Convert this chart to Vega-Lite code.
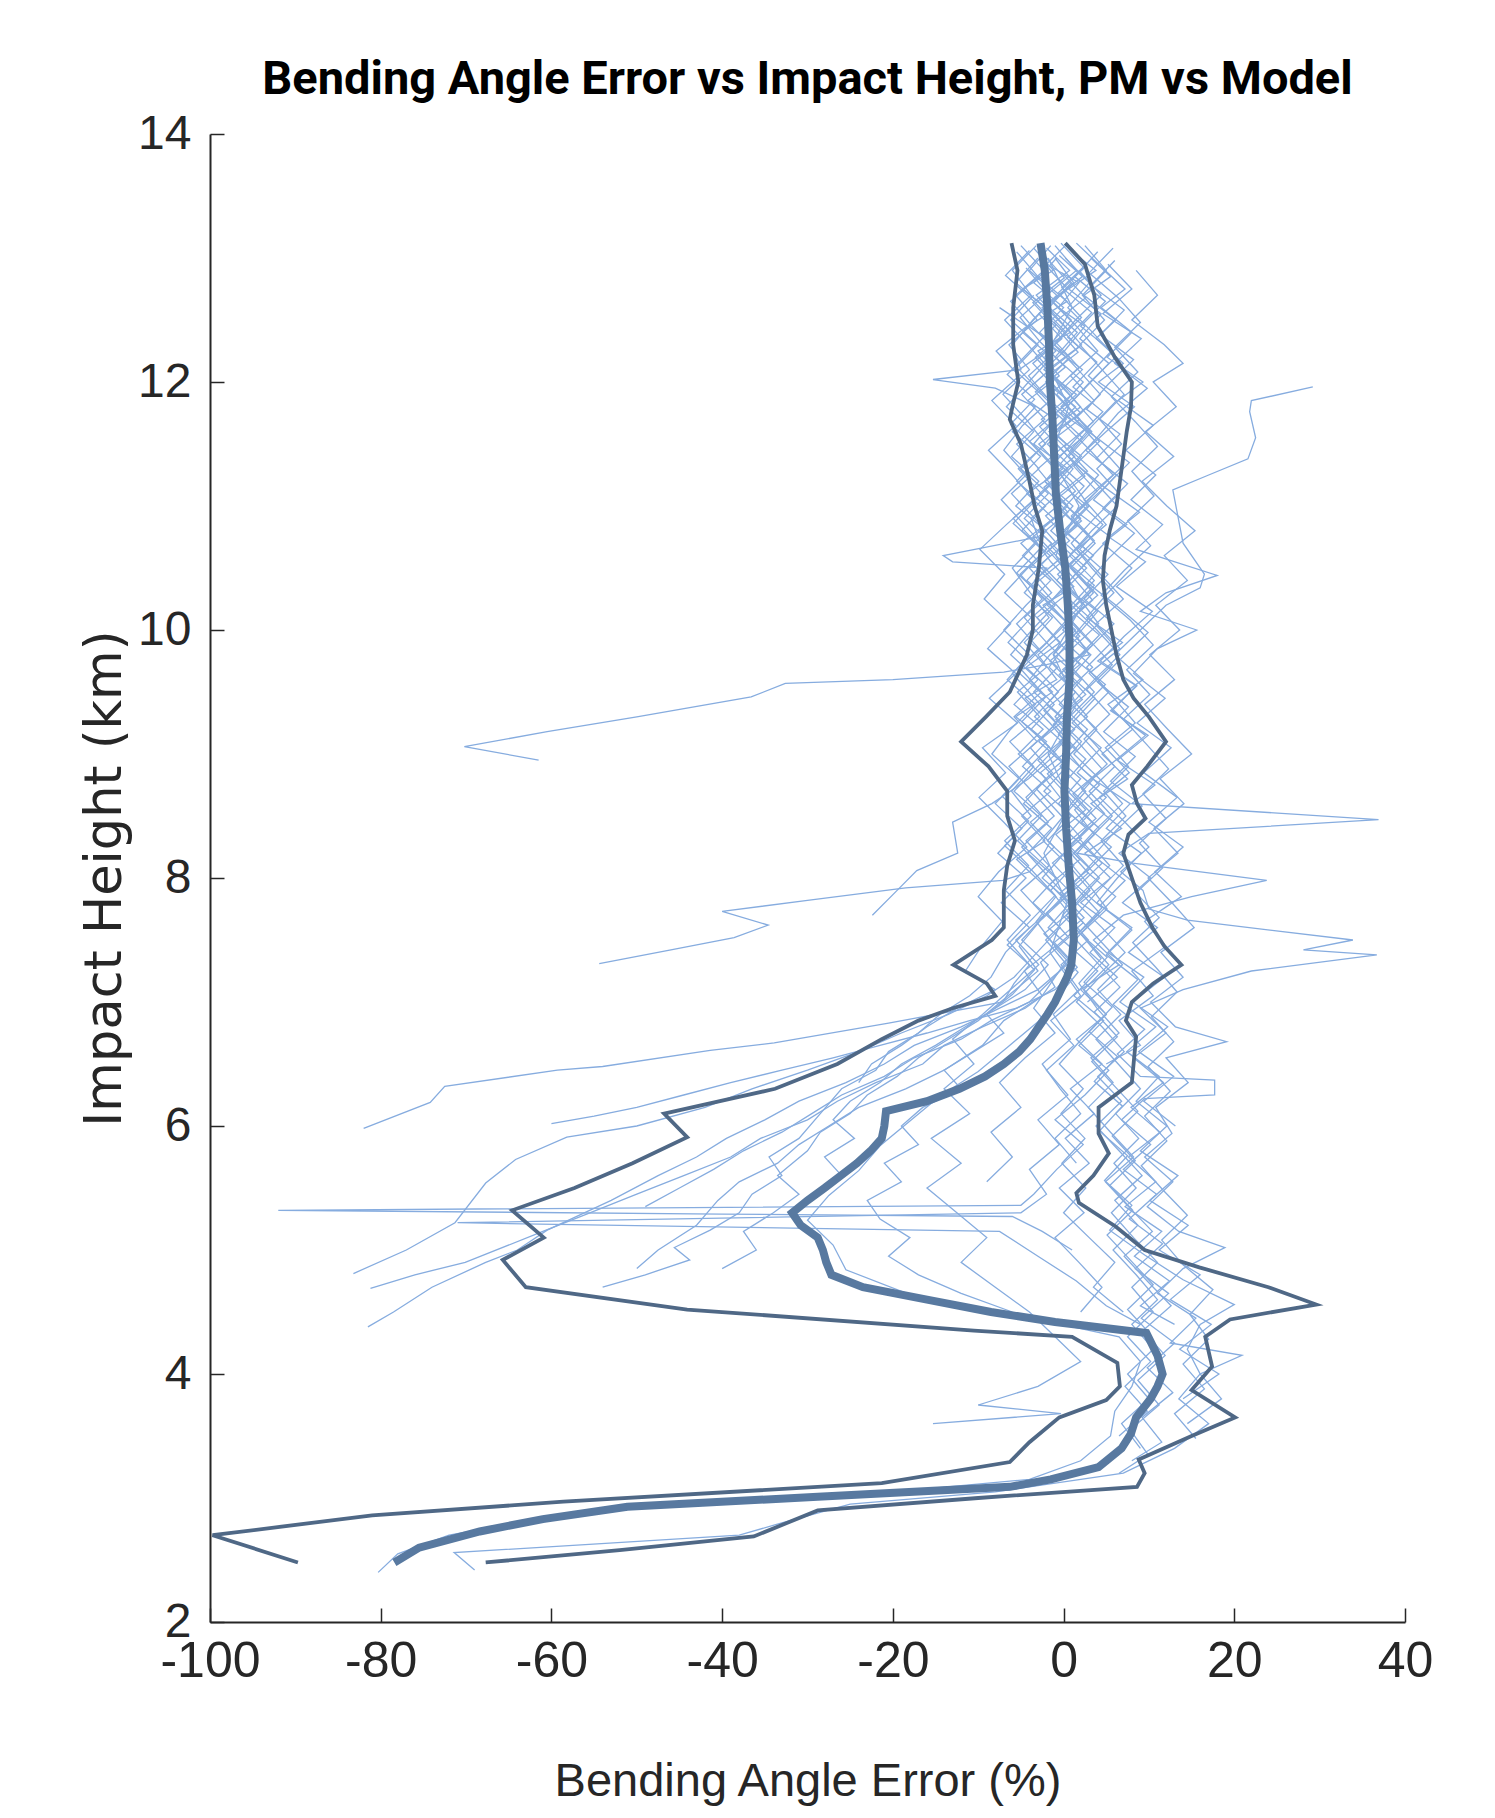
{
"$schema": "https://vega.github.io/schema/vega-lite/v6.json",
"width": 1195, "height": 1488,
"autosize": {"type": "none"},
"padding": {"left": 210, "top": 134, "right": 90, "bottom": 196},
"background": "white",
"config": {"view": {"stroke": null}},
"title": {"text": "Bending Angle Error vs Impact Height, PM vs Model", "font": "Roboto", "fontSize": 47, "fontWeight": "bold", "color": "black", "anchor": "middle", "frame": "group", "baseline": "alphabetic", "offset": -31},
"datasets": {
"light": [
{"s":"a","h":13.08,"e":-3.5},{"s":"a","h":12.9,"e":-1.2},{"s":"a","h":12.75,"e":-4.8},{"s":"a","h":12.6,"e":-2.1},{"s":"a","h":12.4,"e":0.8},{"s":"a","h":12.25,"e":-3.0},{"s":"a","h":12.05,"e":-0.5},{"s":"a","h":11.85,"e":-4.2},{"s":"a","h":11.7,"e":-1.0},{"s":"a","h":11.5,"e":-3.5},{"s":"a","h":11.3,"e":0.5},{"s":"a","h":11.1,"e":-2.8},{"s":"a","h":10.95,"e":-0.2},{"s":"a","h":10.75,"e":-3.6},{"s":"a","h":10.55,"e":-1.5},{"s":"a","h":10.35,"e":1.2},{"s":"a","h":10.2,"e":-2.4},{"s":"a","h":10.0,"e":0.3},{"s":"a","h":9.8,"e":-3.0},{"s":"a","h":9.6,"e":-0.8},{"s":"a","h":9.45,"e":-4.5},{"s":"a","h":9.25,"e":-1.6},{"s":"a","h":9.05,"e":0.9},{"s":"a","h":8.85,"e":-2.7},{"s":"a","h":8.65,"e":-0.4},{"s":"a","h":8.45,"e":-3.9},{"s":"a","h":8.25,"e":-1.1},{"s":"a","h":8.05,"e":-4.0},{"s":"a","h":7.85,"e":-0.9},{"s":"a","h":7.65,"e":-3.2},{"s":"a","h":7.45,"e":-1.0},{"s":"a","h":7.25,"e":-4.6},{"s":"a","h":7.05,"e":-2.5},{"s":"a","h":6.85,"e":-7.0},{"s":"a","h":6.65,"e":-9.5},{"s":"a","h":6.45,"e":-14.0},{"s":"a","h":6.3,"e":-18.5},{"s":"a","h":6.15,"e":-24.0},{"s":"a","h":6.0,"e":-27.5},{"s":"a","h":5.85,"e":-31.0},{"s":"a","h":5.7,"e":-33.5},{"s":"a","h":5.55,"e":-38.0},{"s":"a","h":5.4,"e":-40.5},{"s":"a","h":5.2,"e":-43.0},{"s":"a","h":5.0,"e":-47.5},{"s":"a","h":4.85,"e":-50.0},
{"s":"b","h":13.12,"e":0.5},{"s":"b","h":12.95,"e":-2.0},{"s":"b","h":12.8,"e":1.8},{"s":"b","h":12.6,"e":-0.6},{"s":"b","h":12.45,"e":2.5},{"s":"b","h":12.25,"e":0.1},{"s":"b","h":12.1,"e":-2.3},{"s":"b","h":11.9,"e":1.5},{"s":"b","h":11.75,"e":-0.9},{"s":"b","h":11.55,"e":2.2},{"s":"b","h":11.35,"e":-1.4},{"s":"b","h":11.2,"e":0.9},{"s":"b","h":11.0,"e":3.0},{"s":"b","h":10.8,"e":0.2},{"s":"b","h":10.65,"e":2.6},{"s":"b","h":10.45,"e":-0.7},{"s":"b","h":10.25,"e":1.9},{"s":"b","h":10.05,"e":4.1},{"s":"b","h":9.85,"e":1.0},{"s":"b","h":9.7,"e":3.4},{"s":"b","h":9.5,"e":0.3},{"s":"b","h":9.3,"e":2.8},{"s":"b","h":9.1,"e":-0.5},{"s":"b","h":8.9,"e":1.9},{"s":"b","h":8.75,"e":4.2},{"s":"b","h":8.55,"e":1.3},{"s":"b","h":8.35,"e":3.6},{"s":"b","h":8.15,"e":0.4},{"s":"b","h":7.95,"e":2.9},{"s":"b","h":7.75,"e":5.1},{"s":"b","h":7.55,"e":2.0},{"s":"b","h":7.35,"e":4.4},{"s":"b","h":7.15,"e":1.8},{"s":"b","h":6.95,"e":3.9},{"s":"b","h":6.75,"e":6.5},{"s":"b","h":6.55,"e":3.2},{"s":"b","h":6.35,"e":5.8},{"s":"b","h":6.15,"e":2.9},{"s":"b","h":5.95,"e":5.5},{"s":"b","h":5.75,"e":8.2},{"s":"b","h":5.55,"e":4.9},{"s":"b","h":5.35,"e":7.6},{"s":"b","h":5.15,"e":10.4},{"s":"b","h":4.95,"e":7.1},{"s":"b","h":4.75,"e":9.8},{"s":"b","h":4.55,"e":12.6},{"s":"b","h":4.35,"e":9.3},{"s":"b","h":4.15,"e":11.9},{"s":"b","h":3.95,"e":8.7},{"s":"b","h":3.75,"e":11.2},{"s":"b","h":3.55,"e":7.8},{"s":"b","h":3.35,"e":9.9},{"s":"b","h":3.2,"e":6.5},
{"s":"c","h":13.0,"e":3.2},{"s":"c","h":12.85,"e":5.5},{"s":"c","h":12.7,"e":2.4},{"s":"c","h":12.5,"e":6.1},{"s":"c","h":12.35,"e":3.8},{"s":"c","h":12.15,"e":7.0},{"s":"c","h":12.0,"e":4.1},{"s":"c","h":11.8,"e":8.3},{"s":"c","h":11.6,"e":5.0},{"s":"c","h":11.45,"e":2.6},{"s":"c","h":11.25,"e":6.2},{"s":"c","h":11.05,"e":3.5},{"s":"c","h":10.85,"e":7.4},{"s":"c","h":10.7,"e":4.6},{"s":"c","h":10.5,"e":8.0},{"s":"c","h":10.3,"e":5.2},{"s":"c","h":10.1,"e":2.7},{"s":"c","h":9.9,"e":6.9},{"s":"c","h":9.75,"e":4.0},{"s":"c","h":9.55,"e":8.5},{"s":"c","h":9.35,"e":5.7},{"s":"c","h":9.15,"e":9.6},{"s":"c","h":8.95,"e":6.1},{"s":"c","h":8.8,"e":3.4},{"s":"c","h":8.6,"e":7.8},{"s":"c","h":8.4,"e":5.0},{"s":"c","h":8.2,"e":9.1},{"s":"c","h":8.0,"e":6.3},{"s":"c","h":7.8,"e":3.9},{"s":"c","h":7.6,"e":8.0},{"s":"c","h":7.4,"e":5.2},{"s":"c","h":7.2,"e":9.4},{"s":"c","h":7.0,"e":6.6},{"s":"c","h":6.8,"e":10.8},{"s":"c","h":6.6,"e":7.4},{"s":"c","h":6.4,"e":11.2},{"s":"c","h":6.2,"e":8.5},{"s":"c","h":6.0,"e":12.1},{"s":"c","h":5.8,"e":9.0},{"s":"c","h":5.6,"e":13.4},{"s":"c","h":5.4,"e":10.1},{"s":"c","h":5.2,"e":14.6},{"s":"c","h":5.0,"e":11.2},{"s":"c","h":4.8,"e":16.0},{"s":"c","h":4.6,"e":12.5},{"s":"c","h":4.4,"e":17.3},{"s":"c","h":4.2,"e":13.6},{"s":"c","h":4.0,"e":18.2},{"s":"c","h":3.8,"e":14.0},
{"s":"d","h":13.05,"e":1.0},{"s":"d","h":12.9,"e":3.8},{"s":"d","h":12.75,"e":0.6},{"s":"d","h":12.55,"e":4.4},{"s":"d","h":12.35,"e":1.9},{"s":"d","h":12.15,"e":5.3},{"s":"d","h":11.95,"e":2.5},{"s":"d","h":11.75,"e":-0.3},{"s":"d","h":11.55,"e":3.9},{"s":"d","h":11.35,"e":1.2},{"s":"d","h":11.15,"e":4.8},{"s":"d","h":10.95,"e":1.6},{"s":"d","h":10.75,"e":5.5},{"s":"d","h":10.55,"e":2.7},{"s":"d","h":10.35,"e":0.1},{"s":"d","h":10.15,"e":4.0},{"s":"d","h":9.95,"e":1.5},{"s":"d","h":9.8,"e":3.0},{"s":"d","h":9.72,"e":-2.0},{"s":"d","h":9.66,"e":-7.0},{"s":"d","h":9.6,"e":-20.0},{"s":"d","h":9.57,"e":-32.6},{"s":"d","h":9.46,"e":-36.6},{"s":"d","h":9.3,"e":-50.0},{"s":"d","h":9.18,"e":-60.5},{"s":"d","h":9.06,"e":-70.2},{"s":"d","h":8.95,"e":-61.5},
{"s":"e","h":12.85,"e":-3.0},{"s":"e","h":12.65,"e":0.4},{"s":"e","h":12.45,"e":-4.1},{"s":"e","h":12.3,"e":-1.0},{"s":"e","h":12.1,"e":-5.2},{"s":"e","h":11.9,"e":-2.4},{"s":"e","h":11.7,"e":0.9},{"s":"e","h":11.5,"e":-2.9},{"s":"e","h":11.3,"e":-0.1},{"s":"e","h":11.1,"e":-4.3},{"s":"e","h":10.9,"e":-1.2},{"s":"e","h":10.7,"e":-5.0},{"s":"e","h":10.5,"e":-2.2},{"s":"e","h":10.3,"e":0.6},{"s":"e","h":10.1,"e":-3.1},{"s":"e","h":9.9,"e":-0.4},{"s":"e","h":9.7,"e":-4.4},{"s":"e","h":9.5,"e":-1.3},{"s":"e","h":9.3,"e":-5.6},{"s":"e","h":9.1,"e":-2.0},{"s":"e","h":8.9,"e":-4.8},{"s":"e","h":8.7,"e":-1.5},{"s":"e","h":8.5,"e":-4.9},{"s":"e","h":8.3,"e":-2.2},{"s":"e","h":8.15,"e":-5.5},{"s":"e","h":8.05,"e":-4.0},{"s":"e","h":7.98,"e":-7.1},{"s":"e","h":7.92,"e":-18.5},{"s":"e","h":7.82,"e":-30.0},{"s":"e","h":7.73,"e":-40.0},{"s":"e","h":7.62,"e":-34.6},{"s":"e","h":7.52,"e":-38.6},{"s":"e","h":7.42,"e":-46.0},{"s":"e","h":7.31,"e":-54.4},
{"s":"f","h":13.0,"e":-1.0},{"s":"f","h":12.8,"e":1.2},{"s":"f","h":12.6,"e":-2.5},{"s":"f","h":12.4,"e":0.3},{"s":"f","h":12.2,"e":-3.3},{"s":"f","h":12.0,"e":-0.6},{"s":"f","h":11.8,"e":2.0},{"s":"f","h":11.6,"e":-1.7},{"s":"f","h":11.4,"e":1.3},{"s":"f","h":11.2,"e":-2.2},{"s":"f","h":11.0,"e":0.5},{"s":"f","h":10.8,"e":-2.9},{"s":"f","h":10.6,"e":0.0},{"s":"f","h":10.4,"e":-3.4},{"s":"f","h":10.2,"e":-0.8},{"s":"f","h":10.0,"e":1.9},{"s":"f","h":9.8,"e":-1.6},{"s":"f","h":9.6,"e":-4.0},{"s":"f","h":9.4,"e":-1.1},{"s":"f","h":9.2,"e":-3.8},{"s":"f","h":9.0,"e":-0.9},{"s":"f","h":8.8,"e":-4.1},{"s":"f","h":8.6,"e":-8.4},{"s":"f","h":8.45,"e":-13.0},{"s":"f","h":8.2,"e":-12.4},{"s":"f","h":8.06,"e":-17.2},{"s":"f","h":7.9,"e":-19.5},{"s":"f","h":7.7,"e":-22.4},
{"s":"g","h":13.1,"e":-5.0},{"s":"g","h":12.9,"e":-2.3},{"s":"g","h":12.7,"e":-5.6},{"s":"g","h":12.5,"e":-3.1},{"s":"g","h":12.3,"e":-6.4},{"s":"g","h":12.1,"e":-4.0},{"s":"g","h":11.9,"e":-7.1},{"s":"g","h":11.7,"e":-4.4},{"s":"g","h":11.5,"e":-2.1},{"s":"g","h":11.3,"e":-5.3},{"s":"g","h":11.1,"e":-2.6},{"s":"g","h":10.9,"e":-5.9},{"s":"g","h":10.7,"e":-3.2},{"s":"g","h":10.5,"e":-6.0},{"s":"g","h":10.3,"e":-3.9},{"s":"g","h":10.1,"e":-1.7},{"s":"g","h":9.9,"e":-4.6},{"s":"g","h":9.7,"e":-2.0},{"s":"g","h":9.5,"e":-5.4},{"s":"g","h":9.3,"e":-2.8},{"s":"g","h":9.1,"e":-6.3},{"s":"g","h":8.9,"e":-3.5},{"s":"g","h":8.7,"e":-6.1},{"s":"g","h":8.5,"e":-3.8},{"s":"g","h":8.3,"e":-6.9},{"s":"g","h":8.1,"e":-4.1},{"s":"g","h":7.9,"e":-6.8},{"s":"g","h":7.7,"e":-3.9},{"s":"g","h":7.5,"e":-6.6},{"s":"g","h":7.3,"e":-4.0},{"s":"g","h":7.15,"e":-5.8},{"s":"g","h":7.0,"e":-7.1},{"s":"g","h":6.83,"e":-20.5},{"s":"g","h":6.67,"e":-33.9},{"s":"g","h":6.61,"e":-41.4},{"s":"g","h":6.48,"e":-54.0},{"s":"g","h":6.45,"e":-59.3},{"s":"g","h":6.32,"e":-72.5},{"s":"g","h":6.19,"e":-74.2},{"s":"g","h":5.98,"e":-82.0},
{"s":"h","h":12.95,"e":5.2},{"s":"h","h":12.75,"e":8.0},{"s":"h","h":12.55,"e":4.6},{"s":"h","h":12.35,"e":9.1},{"s":"h","h":12.15,"e":6.0},{"s":"h","h":11.95,"e":9.8},{"s":"h","h":11.75,"e":6.4},{"s":"h","h":11.55,"e":3.9},{"s":"h","h":11.35,"e":7.7},{"s":"h","h":11.15,"e":4.8},{"s":"h","h":10.95,"e":8.9},{"s":"h","h":10.75,"e":5.3},{"s":"h","h":10.55,"e":9.6},{"s":"h","h":10.35,"e":6.2},{"s":"h","h":10.15,"e":10.4},{"s":"h","h":9.95,"e":7.1},{"s":"h","h":9.75,"e":4.3},{"s":"h","h":9.55,"e":8.6},{"s":"h","h":9.35,"e":5.5},{"s":"h","h":9.15,"e":9.9},{"s":"h","h":8.95,"e":6.3},{"s":"h","h":8.75,"e":10.7},{"s":"h","h":8.6,"e":8.0},{"s":"h","h":8.47,"e":36.9},{"s":"h","h":8.36,"e":10.0},{"s":"h","h":8.2,"e":6.5},{"s":"h","h":8.0,"e":10.2},{"s":"h","h":7.8,"e":6.9},{"s":"h","h":7.6,"e":11.0},{"s":"h","h":7.4,"e":7.6},{"s":"h","h":7.2,"e":11.8},{"s":"h","h":7.0,"e":8.1},{"s":"h","h":6.8,"e":12.2},{"s":"h","h":6.6,"e":8.8},{"s":"h","h":6.4,"e":12.9},{"s":"h","h":6.2,"e":9.4},{"s":"h","h":6.0,"e":13.1},
{"s":"i","h":13.02,"e":-0.5},{"s":"i","h":12.85,"e":2.2},{"s":"i","h":12.65,"e":-1.4},{"s":"i","h":12.45,"e":1.5},{"s":"i","h":12.25,"e":4.0},{"s":"i","h":12.05,"e":0.8},{"s":"i","h":11.85,"e":3.6},{"s":"i","h":11.65,"e":0.2},{"s":"i","h":11.45,"e":3.1},{"s":"i","h":11.25,"e":5.8},{"s":"i","h":11.05,"e":2.4},{"s":"i","h":10.85,"e":5.0},{"s":"i","h":10.65,"e":1.6},{"s":"i","h":10.45,"e":4.3},{"s":"i","h":10.25,"e":7.0},{"s":"i","h":10.05,"e":3.8},{"s":"i","h":9.85,"e":6.6},{"s":"i","h":9.65,"e":3.0},{"s":"i","h":9.45,"e":5.9},{"s":"i","h":9.25,"e":8.4},{"s":"i","h":9.05,"e":4.9},{"s":"i","h":8.85,"e":7.7},{"s":"i","h":8.65,"e":4.2},{"s":"i","h":8.45,"e":7.2},{"s":"i","h":8.25,"e":10.0},{"s":"i","h":8.05,"e":6.7},{"s":"i","h":7.9,"e":9.3},{"s":"i","h":7.75,"e":10.0},{"s":"i","h":7.66,"e":14.5},{"s":"i","h":7.5,"e":33.9},{"s":"i","h":7.42,"e":28.1},{"s":"i","h":7.38,"e":36.7},{"s":"i","h":7.25,"e":22.0},{"s":"i","h":7.1,"e":14.0},{"s":"i","h":6.95,"e":9.0},{"s":"i","h":6.75,"e":12.0},{"s":"i","h":6.55,"e":8.2},{"s":"i","h":6.35,"e":11.7},{"s":"i","h":6.15,"e":7.9},{"s":"i","h":5.95,"e":11.3},{"s":"i","h":5.75,"e":7.6},{"s":"i","h":5.55,"e":10.8},{"s":"i","h":5.35,"e":7.2},{"s":"i","h":5.15,"e":11.5},{"s":"i","h":4.95,"e":8.3},{"s":"i","h":4.75,"e":12.4},{"s":"i","h":4.55,"e":9.0},{"s":"i","h":4.4,"e":13.0},
{"s":"j","h":11.96,"e":29.2},{"s":"j","h":11.85,"e":22.0},{"s":"j","h":11.76,"e":21.8},{"s":"j","h":11.55,"e":22.5},{"s":"j","h":11.38,"e":21.6},{"s":"j","h":11.25,"e":17.0},{"s":"j","h":11.13,"e":12.8},{"s":"j","h":10.95,"e":13.3},{"s":"j","h":10.7,"e":14.0},{"s":"j","h":10.45,"e":16.5},{"s":"j","h":10.34,"e":16.0},{"s":"j","h":10.2,"e":12.0},{"s":"j","h":10.0,"e":9.0},{"s":"j","h":9.8,"e":6.0},{"s":"j","h":9.6,"e":9.3},{"s":"j","h":9.4,"e":5.2},{"s":"j","h":9.2,"e":8.1},{"s":"j","h":9.0,"e":4.5},{"s":"j","h":8.8,"e":7.5},{"s":"j","h":8.6,"e":3.2},{"s":"j","h":8.4,"e":6.8},{"s":"j","h":8.2,"e":2.5},{"s":"j","h":8.0,"e":5.5},{"s":"j","h":7.8,"e":2.0},{"s":"j","h":7.6,"e":6.0},{"s":"j","h":7.4,"e":3.1},{"s":"j","h":7.2,"e":6.3},{"s":"j","h":7.0,"e":2.8},
{"s":"k","h":13.08,"e":-2.0},{"s":"k","h":12.9,"e":0.7},{"s":"k","h":12.7,"e":-3.2},{"s":"k","h":12.5,"e":-0.5},{"s":"k","h":12.3,"e":2.1},{"s":"k","h":12.1,"e":-1.8},{"s":"k","h":11.9,"e":1.0},{"s":"k","h":11.7,"e":-2.6},{"s":"k","h":11.5,"e":0.3},{"s":"k","h":11.3,"e":-3.0},{"s":"k","h":11.1,"e":-0.6},{"s":"k","h":10.9,"e":-3.8},{"s":"k","h":10.75,"e":-3.0},{"s":"k","h":10.6,"e":-14.1},{"s":"k","h":10.55,"e":-13.0},{"s":"k","h":10.5,"e":-2.0},{"s":"k","h":10.3,"e":-4.6},{"s":"k","h":10.1,"e":-1.3},{"s":"k","h":9.9,"e":-3.9},{"s":"k","h":9.7,"e":-0.7},{"s":"k","h":9.5,"e":-3.5},{"s":"k","h":9.3,"e":-0.2},{"s":"k","h":9.1,"e":-2.9},{"s":"k","h":8.9,"e":0.4},{"s":"k","h":8.7,"e":-2.3},{"s":"k","h":8.5,"e":0.9},{"s":"k","h":8.3,"e":-1.9},{"s":"k","h":8.1,"e":1.2},{"s":"k","h":7.9,"e":-1.5},{"s":"k","h":7.7,"e":0.8},{"s":"k","h":7.5,"e":-2.1},{"s":"k","h":7.3,"e":0.4},{"s":"k","h":7.1,"e":-3.0},{"s":"k","h":6.95,"e":-7.5},{"s":"k","h":6.8,"e":-12.0},{"s":"k","h":6.65,"e":-17.5},{"s":"k","h":6.5,"e":-21.0},{"s":"k","h":6.35,"e":-25.5},{"s":"k","h":6.2,"e":-31.0},{"s":"k","h":6.05,"e":-35.0},{"s":"k","h":5.9,"e":-39.5},{"s":"k","h":5.75,"e":-43.0},{"s":"k","h":5.6,"e":-47.5},{"s":"k","h":5.4,"e":-53.0},{"s":"k","h":5.16,"e":-60.5},{"s":"k","h":5.0,"e":-64.0},{"s":"k","h":4.9,"e":-67.7},{"s":"k","h":4.7,"e":-74.0},{"s":"k","h":4.5,"e":-78.5},{"s":"k","h":4.38,"e":-81.5},
{"s":"l","h":13.1,"e":-1.5},{"s":"l","h":12.9,"e":-4.0},{"s":"l","h":12.7,"e":-0.8},{"s":"l","h":12.5,"e":-3.6},{"s":"l","h":12.3,"e":-6.0},{"s":"l","h":12.1,"e":-5.0},{"s":"l","h":12.02,"e":-15.3},{"s":"l","h":11.95,"e":-8.0},{"s":"l","h":11.8,"e":-3.3},{"s":"l","h":11.6,"e":-6.0},{"s":"l","h":11.4,"e":-2.7},{"s":"l","h":11.2,"e":-5.5},{"s":"l","h":11.0,"e":-2.1},{"s":"l","h":10.8,"e":-4.9},{"s":"l","h":10.6,"e":-1.6},{"s":"l","h":10.4,"e":-4.3},{"s":"l","h":10.2,"e":-1.0},{"s":"l","h":10.0,"e":-3.7},{"s":"l","h":9.8,"e":-6.2},{"s":"l","h":9.6,"e":-3.0},{"s":"l","h":9.4,"e":-5.8},{"s":"l","h":9.2,"e":-2.4},{"s":"l","h":9.0,"e":-5.3},{"s":"l","h":8.8,"e":-2.0},{"s":"l","h":8.6,"e":-4.7},{"s":"l","h":8.4,"e":-1.4},{"s":"l","h":8.2,"e":-4.2},{"s":"l","h":8.0,"e":-0.9},{"s":"l","h":7.8,"e":-3.6},{"s":"l","h":7.6,"e":-0.4},{"s":"l","h":7.4,"e":-3.1},{"s":"l","h":7.2,"e":-5.8},{"s":"l","h":7.05,"e":-9.0},{"s":"l","h":6.9,"e":-13.5},{"s":"l","h":6.75,"e":-19.0},{"s":"l","h":6.6,"e":-24.0},{"s":"l","h":6.45,"e":-30.0},{"s":"l","h":6.3,"e":-36.5},{"s":"l","h":6.15,"e":-42.0},{"s":"l","h":6.0,"e":-50.0},{"s":"l","h":5.91,"e":-58.2},{"s":"l","h":5.73,"e":-64.2},{"s":"l","h":5.54,"e":-67.7},{"s":"l","h":5.22,"e":-71.3},{"s":"l","h":5.0,"e":-77.0},{"s":"l","h":4.81,"e":-83.2},
{"s":"m","h":12.92,"e":-4.4},{"s":"m","h":12.72,"e":-1.9},{"s":"m","h":12.52,"e":-5.1},{"s":"m","h":12.32,"e":-2.7},{"s":"m","h":12.12,"e":0.2},{"s":"m","h":11.92,"e":-3.3},{"s":"m","h":11.72,"e":-0.6},{"s":"m","h":11.52,"e":-4.0},{"s":"m","h":11.32,"e":-1.3},{"s":"m","h":11.12,"e":1.4},{"s":"m","h":10.92,"e":-2.1},{"s":"m","h":10.72,"e":0.7},{"s":"m","h":10.52,"e":-2.9},{"s":"m","h":10.32,"e":-0.1},{"s":"m","h":10.12,"e":-3.4},{"s":"m","h":9.92,"e":-0.8},{"s":"m","h":9.72,"e":1.9},{"s":"m","h":9.52,"e":-1.8},{"s":"m","h":9.32,"e":0.9},{"s":"m","h":9.12,"e":-2.6},{"s":"m","h":8.92,"e":0.2},{"s":"m","h":8.72,"e":-3.2},{"s":"m","h":8.52,"e":-0.5},{"s":"m","h":8.32,"e":2.1},{"s":"m","h":8.12,"e":-1.3},{"s":"m","h":7.92,"e":1.5},{"s":"m","h":7.72,"e":-2.0},{"s":"m","h":7.52,"e":0.6},{"s":"m","h":7.32,"e":-2.7},{"s":"m","h":7.12,"e":-1.0},{"s":"m","h":6.95,"e":-4.5},{"s":"m","h":6.8,"e":-9.5},{"s":"m","h":6.65,"e":-14.0},{"s":"m","h":6.5,"e":-16.5},{"s":"m","h":6.35,"e":-22.0},{"s":"m","h":6.2,"e":-26.5},{"s":"m","h":6.05,"e":-30.0},{"s":"m","h":5.9,"e":-35.5},{"s":"m","h":5.75,"e":-39.0},{"s":"m","h":5.6,"e":-44.5},{"s":"m","h":5.45,"e":-50.0},{"s":"m","h":5.3,"e":-55.5},{"s":"m","h":5.15,"e":-61.0},{"s":"m","h":4.9,"e":-70.1},{"s":"m","h":4.8,"e":-76.0},{"s":"m","h":4.69,"e":-81.2},
{"s":"n","h":13.0,"e":-3.0},{"s":"n","h":12.8,"e":-5.6},{"s":"n","h":12.6,"e":-2.2},{"s":"n","h":12.4,"e":-4.8},{"s":"n","h":12.2,"e":-1.4},{"s":"n","h":12.0,"e":-4.1},{"s":"n","h":11.8,"e":-6.7},{"s":"n","h":11.6,"e":-3.5},{"s":"n","h":11.4,"e":-6.1},{"s":"n","h":11.2,"e":-2.9},{"s":"n","h":11.0,"e":-5.6},{"s":"n","h":10.8,"e":-2.0},{"s":"n","h":10.6,"e":-4.8},{"s":"n","h":10.4,"e":-1.5},{"s":"n","h":10.2,"e":-4.4},{"s":"n","h":10.0,"e":-7.0},{"s":"n","h":9.8,"e":-4.0},{"s":"n","h":9.6,"e":-6.6},{"s":"n","h":9.4,"e":-3.3},{"s":"n","h":9.2,"e":-6.2},{"s":"n","h":9.0,"e":-8.4},{"s":"n","h":8.8,"e":-5.2},{"s":"n","h":8.6,"e":-8.0},{"s":"n","h":8.4,"e":-4.9},{"s":"n","h":8.2,"e":-7.7},{"s":"n","h":8.0,"e":-4.4},{"s":"n","h":7.8,"e":-7.3},{"s":"n","h":7.6,"e":-4.0},{"s":"n","h":7.4,"e":-6.8},{"s":"n","h":7.2,"e":-8.5},{"s":"n","h":7.05,"e":-11.0},{"s":"n","h":6.9,"e":-14.5},{"s":"n","h":6.75,"e":-17.0},{"s":"n","h":6.6,"e":-20.5},{"s":"n","h":6.45,"e":-22.0},{"s":"n","h":6.3,"e":-26.0},{"s":"n","h":6.1,"e":-28.5},{"s":"n","h":5.9,"e":-31.0},{"s":"n","h":5.75,"e":-34.5},{"s":"n","h":5.6,"e":-33.0},{"s":"n","h":5.45,"e":-36.5},{"s":"n","h":5.3,"e":-38.0},{"s":"n","h":5.16,"e":-41.4},{"s":"n","h":5.02,"e":-45.6},{"s":"n","h":4.92,"e":-43.8},{"s":"n","h":4.8,"e":-49.0},{"s":"n","h":4.7,"e":-54.0},
{"s":"o","h":13.05,"e":4.0},{"s":"o","h":12.85,"e":1.3},{"s":"o","h":12.65,"e":4.9},{"s":"o","h":12.45,"e":2.0},{"s":"o","h":12.25,"e":5.6},{"s":"o","h":12.05,"e":2.9},{"s":"o","h":11.85,"e":6.2},{"s":"o","h":11.65,"e":3.4},{"s":"o","h":11.45,"e":0.8},{"s":"o","h":11.25,"e":4.1},{"s":"o","h":11.05,"e":1.5},{"s":"o","h":10.85,"e":4.6},{"s":"o","h":10.65,"e":1.9},{"s":"o","h":10.45,"e":5.2},{"s":"o","h":10.25,"e":2.4},{"s":"o","h":10.05,"e":5.9},{"s":"o","h":9.85,"e":3.0},{"s":"o","h":9.65,"e":0.5},{"s":"o","h":9.45,"e":3.7},{"s":"o","h":9.25,"e":1.0},{"s":"o","h":9.05,"e":4.4},{"s":"o","h":8.85,"e":1.6},{"s":"o","h":8.65,"e":5.0},{"s":"o","h":8.45,"e":2.1},{"s":"o","h":8.25,"e":5.6},{"s":"o","h":8.05,"e":2.7},{"s":"o","h":7.85,"e":6.1},{"s":"o","h":7.65,"e":3.3},{"s":"o","h":7.45,"e":0.7},{"s":"o","h":7.25,"e":4.0},{"s":"o","h":7.05,"e":1.2},{"s":"o","h":6.85,"e":4.7},{"s":"o","h":6.65,"e":1.8},{"s":"o","h":6.45,"e":5.3},{"s":"o","h":6.25,"e":2.5},{"s":"o","h":6.05,"e":-1.0},{"s":"o","h":5.85,"e":2.3},{"s":"o","h":5.65,"e":-0.8},{"s":"o","h":5.45,"e":-3.5},{"s":"o","h":5.36,"e":-5.0},{"s":"o","h":5.32,"e":-92.0},{"s":"o","h":5.29,"e":-40.0},{"s":"o","h":5.27,"e":-6.0},{"s":"o","h":5.15,"e":-2.5},{"s":"o","h":5.0,"e":1.0},
{"s":"p","h":12.88,"e":-0.2},{"s":"p","h":12.68,"e":2.6},{"s":"p","h":12.48,"e":-1.1},{"s":"p","h":12.28,"e":1.8},{"s":"p","h":12.08,"e":-1.9},{"s":"p","h":11.88,"e":0.9},{"s":"p","h":11.68,"e":3.5},{"s":"p","h":11.48,"e":0.1},{"s":"p","h":11.28,"e":2.8},{"s":"p","h":11.08,"e":-0.8},{"s":"p","h":10.88,"e":2.1},{"s":"p","h":10.68,"e":-1.5},{"s":"p","h":10.48,"e":1.3},{"s":"p","h":10.28,"e":4.0},{"s":"p","h":10.08,"e":0.6},{"s":"p","h":9.88,"e":3.4},{"s":"p","h":9.68,"e":-0.1},{"s":"p","h":9.48,"e":2.6},{"s":"p","h":9.28,"e":-0.9},{"s":"p","h":9.08,"e":1.9},{"s":"p","h":8.88,"e":4.5},{"s":"p","h":8.68,"e":1.1},{"s":"p","h":8.48,"e":3.8},{"s":"p","h":8.28,"e":0.4},{"s":"p","h":8.08,"e":3.1},{"s":"p","h":7.88,"e":-0.4},{"s":"p","h":7.68,"e":2.4},{"s":"p","h":7.48,"e":-1.1},{"s":"p","h":7.28,"e":1.6},{"s":"p","h":7.1,"e":-1.0},{"s":"p","h":6.95,"e":-5.5},{"s":"p","h":6.85,"e":-11.0},{"s":"p","h":6.75,"e":-16.0},{"s":"p","h":6.65,"e":-21.5},{"s":"p","h":6.55,"e":-27.0},{"s":"p","h":6.45,"e":-33.0},{"s":"p","h":6.35,"e":-39.0},{"s":"p","h":6.25,"e":-44.5},{"s":"p","h":6.15,"e":-50.0},{"s":"p","h":6.08,"e":-55.0},{"s":"p","h":6.02,"e":-60.0},
{"s":"q","h":13.04,"e":-2.5},{"s":"q","h":12.84,"e":0.1},{"s":"q","h":12.64,"e":-3.6},{"s":"q","h":12.44,"e":-0.9},{"s":"q","h":12.24,"e":1.7},{"s":"q","h":12.04,"e":-2.0},{"s":"q","h":11.84,"e":0.6},{"s":"q","h":11.64,"e":-2.8},{"s":"q","h":11.44,"e":0.0},{"s":"q","h":11.24,"e":2.5},{"s":"q","h":11.04,"e":-1.1},{"s":"q","h":10.84,"e":1.6},{"s":"q","h":10.64,"e":-1.8},{"s":"q","h":10.44,"e":0.9},{"s":"q","h":10.24,"e":3.4},{"s":"q","h":10.04,"e":0.1},{"s":"q","h":9.84,"e":2.8},{"s":"q","h":9.64,"e":-0.5},{"s":"q","h":9.44,"e":2.2},{"s":"q","h":9.24,"e":-1.2},{"s":"q","h":9.04,"e":1.5},{"s":"q","h":8.84,"e":-1.9},{"s":"q","h":8.64,"e":0.8},{"s":"q","h":8.44,"e":3.5},{"s":"q","h":8.24,"e":0.3},{"s":"q","h":8.04,"e":2.9},{"s":"q","h":7.84,"e":-0.4},{"s":"q","h":7.64,"e":2.3},{"s":"q","h":7.44,"e":-1.0},{"s":"q","h":7.24,"e":1.7},{"s":"q","h":7.04,"e":-0.7},{"s":"q","h":6.84,"e":-3.0},{"s":"q","h":6.64,"e":-6.5},{"s":"q","h":6.44,"e":-10.0},{"s":"q","h":6.24,"e":-14.5},{"s":"q","h":6.04,"e":-18.0},{"s":"q","h":5.84,"e":-21.5},{"s":"q","h":5.64,"e":-24.0},{"s":"q","h":5.44,"e":-27.5},{"s":"q","h":5.24,"e":-30.0},{"s":"q","h":5.04,"e":-27.0},{"s":"q","h":4.84,"e":-25.5},{"s":"q","h":4.64,"e":-18.0},{"s":"q","h":4.44,"e":-3.0},{"s":"q","h":4.3,"e":6.5},{"s":"q","h":4.1,"e":9.0},{"s":"q","h":3.9,"e":8.0},{"s":"q","h":3.7,"e":6.0},{"s":"q","h":3.5,"e":5.5},{"s":"q","h":3.3,"e":2.0},{"s":"q","h":3.15,"e":-4.0},{"s":"q","h":3.05,"e":-20.0},{"s":"q","h":2.95,"e":-45.0},{"s":"q","h":2.85,"e":-60.0},{"s":"q","h":2.7,"e":-72.0},{"s":"q","h":2.55,"e":-78.0},{"s":"q","h":2.4,"e":-80.3},
{"s":"r","h":12.98,"e":6.0},{"s":"r","h":12.78,"e":3.2},{"s":"r","h":12.58,"e":7.1},{"s":"r","h":12.38,"e":4.3},{"s":"r","h":12.18,"e":8.2},{"s":"r","h":11.98,"e":5.2},{"s":"r","h":11.78,"e":2.7},{"s":"r","h":11.58,"e":6.6},{"s":"r","h":11.38,"e":3.8},{"s":"r","h":11.18,"e":7.5},{"s":"r","h":10.98,"e":4.6},{"s":"r","h":10.78,"e":8.3},{"s":"r","h":10.58,"e":5.3},{"s":"r","h":10.38,"e":2.8},{"s":"r","h":10.18,"e":6.5},{"s":"r","h":9.98,"e":9.9},{"s":"r","h":9.78,"e":6.9},{"s":"r","h":9.58,"e":4.0},{"s":"r","h":9.38,"e":7.6},{"s":"r","h":9.18,"e":4.7},{"s":"r","h":8.98,"e":8.4},{"s":"r","h":8.78,"e":5.5},{"s":"r","h":8.58,"e":9.2},{"s":"r","h":8.38,"e":6.1},{"s":"r","h":8.18,"e":3.5},{"s":"r","h":7.98,"e":7.2},{"s":"r","h":7.78,"e":4.3},{"s":"r","h":7.58,"e":8.0},{"s":"r","h":7.38,"e":5.0},{"s":"r","h":7.18,"e":8.7},{"s":"r","h":6.98,"e":5.8},{"s":"r","h":6.78,"e":9.5},{"s":"r","h":6.58,"e":6.3},{"s":"r","h":6.4,"e":9.0},{"s":"r","h":6.37,"e":17.7},{"s":"r","h":6.25,"e":17.7},{"s":"r","h":6.22,"e":9.5},{"s":"r","h":6.05,"e":6.8},{"s":"r","h":5.85,"e":10.2},{"s":"r","h":5.65,"e":7.0},{"s":"r","h":5.45,"e":10.9},{"s":"r","h":5.25,"e":7.7},{"s":"r","h":5.05,"e":11.6},{"s":"r","h":4.85,"e":8.4},{"s":"r","h":4.65,"e":12.3},{"s":"r","h":4.45,"e":9.1},{"s":"r","h":4.25,"e":13.0},{"s":"r","h":4.05,"e":9.8},{"s":"r","h":3.85,"e":12.8},{"s":"r","h":3.65,"e":9.2},{"s":"r","h":3.45,"e":11.5},{"s":"r","h":3.3,"e":8.0},
{"s":"s","h":13.1,"e":-3.2},{"s":"s","h":12.9,"e":-6.0},{"s":"s","h":12.7,"e":-3.8},{"s":"s","h":12.5,"e":-6.9},{"s":"s","h":12.3,"e":-4.2},{"s":"s","h":12.1,"e":-1.6},{"s":"s","h":11.9,"e":-4.9},{"s":"s","h":11.7,"e":-2.2},{"s":"s","h":11.5,"e":-5.5},{"s":"s","h":11.3,"e":-2.9},{"s":"s","h":11.1,"e":-6.1},{"s":"s","h":10.9,"e":-3.4},{"s":"s","h":10.7,"e":-0.8},{"s":"s","h":10.5,"e":-4.0},{"s":"s","h":10.3,"e":-1.4},{"s":"s","h":10.1,"e":-4.6},{"s":"s","h":9.9,"e":-2.0},{"s":"s","h":9.7,"e":-5.2},{"s":"s","h":9.5,"e":-2.6},{"s":"s","h":9.3,"e":-5.8},{"s":"s","h":9.1,"e":-3.1},{"s":"s","h":8.9,"e":-6.4},{"s":"s","h":8.7,"e":-3.7},{"s":"s","h":8.5,"e":-1.1},{"s":"s","h":8.3,"e":-4.4},{"s":"s","h":8.1,"e":-1.7},{"s":"s","h":7.9,"e":-5.0},{"s":"s","h":7.7,"e":-2.3},{"s":"s","h":7.5,"e":-5.6},{"s":"s","h":7.3,"e":-2.9},{"s":"s","h":7.1,"e":-6.2},{"s":"s","h":6.9,"e":-9.5},{"s":"s","h":6.7,"e":-13.0},{"s":"s","h":6.5,"e":-10.5},{"s":"s","h":6.3,"e":-14.0},{"s":"s","h":6.1,"e":-11.0},{"s":"s","h":5.9,"e":-15.5},{"s":"s","h":5.7,"e":-12.0},{"s":"s","h":5.5,"e":-16.0},{"s":"s","h":5.3,"e":-12.5},{"s":"s","h":5.1,"e":-9.0},{"s":"s","h":4.9,"e":-12.0},{"s":"s","h":4.7,"e":-8.0},{"s":"s","h":4.5,"e":-4.0},{"s":"s","h":4.3,"e":-1.0},{"s":"s","h":4.1,"e":2.0},{"s":"s","h":3.9,"e":-3.0},{"s":"s","h":3.75,"e":-10.0},{"s":"s","h":3.68,"e":-0.3},{"s":"s","h":3.6,"e":-15.3},
{"s":"t","h":12.96,"e":2.8},{"s":"t","h":12.76,"e":-0.2},{"s":"t","h":12.56,"e":3.3},{"s":"t","h":12.36,"e":0.5},{"s":"t","h":12.16,"e":3.9},{"s":"t","h":11.96,"e":1.1},{"s":"t","h":11.76,"e":4.6},{"s":"t","h":11.56,"e":1.7},{"s":"t","h":11.36,"e":-0.9},{"s":"t","h":11.16,"e":2.4},{"s":"t","h":10.96,"e":-0.3},{"s":"t","h":10.76,"e":3.0},{"s":"t","h":10.56,"e":0.2},{"s":"t","h":10.36,"e":3.6},{"s":"t","h":10.16,"e":0.8},{"s":"t","h":9.96,"e":4.2},{"s":"t","h":9.76,"e":1.4},{"s":"t","h":9.56,"e":4.9},{"s":"t","h":9.36,"e":2.0},{"s":"t","h":9.16,"e":-0.6},{"s":"t","h":8.96,"e":2.6},{"s":"t","h":8.76,"e":0.0},{"s":"t","h":8.56,"e":3.3},{"s":"t","h":8.36,"e":0.6},{"s":"t","h":8.16,"e":3.9},{"s":"t","h":7.96,"e":1.2},{"s":"t","h":7.76,"e":4.5},{"s":"t","h":7.56,"e":1.8},{"s":"t","h":7.36,"e":5.1},{"s":"t","h":7.16,"e":2.4},{"s":"t","h":6.96,"e":5.7},{"s":"t","h":6.76,"e":3.0},{"s":"t","h":6.56,"e":6.3},{"s":"t","h":6.36,"e":3.6},{"s":"t","h":6.16,"e":6.9},{"s":"t","h":5.96,"e":4.2},{"s":"t","h":5.76,"e":7.5},{"s":"t","h":5.56,"e":4.8},{"s":"t","h":5.36,"e":8.0},{"s":"t","h":5.16,"e":5.4},{"s":"t","h":4.96,"e":9.5},{"s":"t","h":4.76,"e":14.0},{"s":"t","h":4.56,"e":20.0},{"s":"t","h":4.4,"e":16.0},{"s":"t","h":4.2,"e":14.5},{"s":"t","h":4.0,"e":16.0},{"s":"t","h":3.8,"e":13.5},{"s":"t","h":3.6,"e":17.0},{"s":"t","h":3.4,"e":13.0},{"s":"t","h":3.2,"e":7.0},{"s":"t","h":3.05,"e":-8.0},{"s":"t","h":2.95,"e":-25.0},{"s":"t","h":2.8,"e":-33.0},{"s":"t","h":2.7,"e":-38.0},{"s":"t","h":2.56,"e":-71.4},{"s":"t","h":2.42,"e":-69.0},
{"s":"u","h":13.12,"e":1.5},{"s":"u","h":12.95,"e":4.1},{"s":"u","h":12.75,"e":7.2},{"s":"u","h":12.6,"e":4.4},{"s":"u","h":12.4,"e":8.0},{"s":"u","h":12.2,"e":5.1},{"s":"u","h":12.0,"e":9.3},{"s":"u","h":11.85,"e":6.4},{"s":"u","h":11.65,"e":10.5},{"s":"u","h":11.45,"e":7.3},{"s":"u","h":11.25,"e":10.8},{"s":"u","h":11.05,"e":7.9},{"s":"u","h":10.85,"e":11.6},{"s":"u","h":10.65,"e":8.5},{"s":"u","h":10.44,"e":18.0},{"s":"u","h":10.3,"e":12.0},{"s":"u","h":10.15,"e":9.0},{"s":"u","h":10.0,"e":15.6},{"s":"u","h":9.85,"e":11.0},{"s":"u","h":9.65,"e":8.2},{"s":"u","h":9.45,"e":11.9},{"s":"u","h":9.25,"e":8.6},{"s":"u","h":9.05,"e":12.6},{"s":"u","h":8.85,"e":9.4},{"s":"u","h":8.65,"e":13.3},{"s":"u","h":8.45,"e":10.0},{"s":"u","h":8.25,"e":14.0},{"s":"u","h":8.05,"e":10.7},{"s":"u","h":7.85,"e":13.8},{"s":"u","h":7.65,"e":9.5},{"s":"u","h":7.45,"e":12.0},{"s":"u","h":7.25,"e":8.0},{"s":"u","h":7.05,"e":10.5},{"s":"u","h":6.85,"e":6.5},{"s":"u","h":6.65,"e":9.0},{"s":"u","h":6.5,"e":5.0},
{"s":"v","h":12.6,"e":-7.5},{"s":"v","h":12.45,"e":-4.3},{"s":"v","h":12.25,"e":-7.9},{"s":"v","h":12.05,"e":-5.2},{"s":"v","h":11.85,"e":-8.4},{"s":"v","h":11.65,"e":-5.6},{"s":"v","h":11.45,"e":-8.8},{"s":"v","h":11.25,"e":-6.0},{"s":"v","h":11.05,"e":-3.5},{"s":"v","h":10.85,"e":-6.7},{"s":"v","h":10.65,"e":-9.8},{"s":"v","h":10.45,"e":-6.9},{"s":"v","h":10.25,"e":-9.3},{"s":"v","h":10.05,"e":-6.2},{"s":"v","h":9.85,"e":-8.9},{"s":"v","h":9.65,"e":-5.6},{"s":"v","h":9.45,"e":-8.7},{"s":"v","h":9.25,"e":-5.4},{"s":"v","h":9.05,"e":-9.5},{"s":"v","h":8.85,"e":-6.8},{"s":"v","h":8.65,"e":-9.9},{"s":"v","h":8.45,"e":-7.0},{"s":"v","h":8.25,"e":-4.3},{"s":"v","h":8.05,"e":-7.6},{"s":"v","h":7.85,"e":-10.0},{"s":"v","h":7.65,"e":-7.2},{"s":"v","h":7.45,"e":-9.6},{"s":"v","h":7.25,"e":-11.5},{"s":"v","h":7.1,"e":-8.0},{"s":"v","h":6.95,"e":-12.5},{"s":"v","h":6.8,"e":-16.0},{"s":"v","h":6.65,"e":-19.0},{"s":"v","h":6.5,"e":-22.5},{"s":"v","h":6.35,"e":-24.0},
{"s":"w","h":12.9,"e":8.5},{"s":"w","h":12.7,"e":11.0},{"s":"w","h":12.5,"e":8.0},{"s":"w","h":12.3,"e":11.8},{"s":"w","h":12.15,"e":14.0},{"s":"w","h":12.0,"e":10.5},{"s":"w","h":11.8,"e":13.2},{"s":"w","h":11.6,"e":9.6},{"s":"w","h":11.4,"e":12.9},{"s":"w","h":11.2,"e":9.2},{"s":"w","h":11.0,"e":12.1},{"s":"w","h":10.8,"e":15.4},{"s":"w","h":10.6,"e":11.8},{"s":"w","h":10.4,"e":14.5},{"s":"w","h":10.2,"e":10.8},{"s":"w","h":10.0,"e":13.6},{"s":"w","h":9.8,"e":10.1},{"s":"w","h":9.6,"e":13.0},{"s":"w","h":9.4,"e":9.5},{"s":"w","h":9.2,"e":12.2},{"s":"w","h":9.0,"e":15.0},{"s":"w","h":8.8,"e":11.3},{"s":"w","h":8.6,"e":14.1},{"s":"w","h":8.4,"e":10.6},{"s":"w","h":8.2,"e":13.4},{"s":"w","h":8.0,"e":9.9},{"s":"w","h":7.8,"e":12.7},{"s":"w","h":7.6,"e":15.3},{"s":"w","h":7.4,"e":11.4},{"s":"w","h":7.2,"e":14.0},{"s":"w","h":7.0,"e":10.2},{"s":"w","h":6.8,"e":13.1},{"s":"w","h":6.68,"e":19.1},{"s":"w","h":6.55,"e":12.0},{"s":"w","h":6.35,"e":14.6},{"s":"w","h":6.15,"e":10.8},{"s":"w","h":5.94,"e":12.7},{"s":"w","h":5.75,"e":9.5},{"s":"w","h":5.55,"e":12.8},{"s":"w","h":5.35,"e":9.8},{"s":"w","h":5.15,"e":13.5},{"s":"w","h":5.02,"e":18.9},{"s":"w","h":4.85,"e":14.0},{"s":"w","h":4.65,"e":11.0},{"s":"w","h":4.45,"e":15.5},{"s":"w","h":4.25,"e":12.5},{"s":"w","h":4.15,"e":20.9},{"s":"w","h":4.0,"e":16.0},{"s":"w","h":3.8,"e":18.5},{"s":"w","h":3.6,"e":14.5},
{"s":"x","h":13.0,"e":-0.8},{"s":"x","h":12.8,"e":-3.5},{"s":"x","h":12.6,"e":0.0},{"s":"x","h":12.4,"e":-2.8},{"s":"x","h":12.2,"e":0.7},{"s":"x","h":12.0,"e":-2.1},{"s":"x","h":11.8,"e":1.4},{"s":"x","h":11.6,"e":-1.4},{"s":"x","h":11.4,"e":2.1},{"s":"x","h":11.2,"e":-0.7},{"s":"x","h":11.0,"e":2.8},{"s":"x","h":10.8,"e":0.0},{"s":"x","h":10.6,"e":3.5},{"s":"x","h":10.4,"e":0.7},{"s":"x","h":10.2,"e":-1.9},{"s":"x","h":10.0,"e":1.4},{"s":"x","h":9.8,"e":-1.2},{"s":"x","h":9.6,"e":2.1},{"s":"x","h":9.4,"e":-0.5},{"s":"x","h":9.2,"e":2.8},{"s":"x","h":9.0,"e":0.2},{"s":"x","h":8.8,"e":3.5},{"s":"x","h":8.6,"e":0.9},{"s":"x","h":8.4,"e":4.2},{"s":"x","h":8.2,"e":1.6},{"s":"x","h":8.12,"e":8.1},{"s":"x","h":7.98,"e":23.8},{"s":"x","h":7.85,"e":15.0},{"s":"x","h":7.7,"e":7.0},{"s":"x","h":7.5,"e":3.5},{"s":"x","h":7.3,"e":6.5},{"s":"x","h":7.1,"e":2.0},{"s":"x","h":6.9,"e":5.0},{"s":"x","h":6.7,"e":1.5},{"s":"x","h":6.5,"e":4.5},{"s":"x","h":6.3,"e":0.8},{"s":"x","h":6.1,"e":3.6},{"s":"x","h":5.9,"e":0.2},{"s":"x","h":5.7,"e":3.0},{"s":"x","h":5.5,"e":-0.5},{"s":"x","h":5.3,"e":2.4},{"s":"x","h":5.1,"e":-1.0},{"s":"x","h":4.9,"e":1.8},{"s":"x","h":4.7,"e":4.5},{"s":"x","h":4.5,"e":2.0},
{"s":"y","h":12.8,"e":0.9},{"s":"y","h":12.6,"e":-1.7},{"s":"y","h":12.4,"e":1.6},{"s":"y","h":12.2,"e":-1.0},{"s":"y","h":12.0,"e":2.3},{"s":"y","h":11.8,"e":-0.3},{"s":"y","h":11.6,"e":3.0},{"s":"y","h":11.4,"e":0.4},{"s":"y","h":11.2,"e":-2.2},{"s":"y","h":11.0,"e":1.1},{"s":"y","h":10.8,"e":-1.5},{"s":"y","h":10.6,"e":1.8},{"s":"y","h":10.4,"e":-0.8},{"s":"y","h":10.2,"e":2.5},{"s":"y","h":10.0,"e":-0.1},{"s":"y","h":9.8,"e":3.2},{"s":"y","h":9.6,"e":0.6},{"s":"y","h":9.4,"e":-2.0},{"s":"y","h":9.2,"e":1.3},{"s":"y","h":9.0,"e":-1.3},{"s":"y","h":8.8,"e":2.0},{"s":"y","h":8.6,"e":-0.6},{"s":"y","h":8.4,"e":2.7},{"s":"y","h":8.2,"e":0.1},{"s":"y","h":8.0,"e":-2.5},{"s":"y","h":7.8,"e":0.8},{"s":"y","h":7.6,"e":-1.8},{"s":"y","h":7.4,"e":1.5},{"s":"y","h":7.2,"e":-1.1},{"s":"y","h":7.0,"e":-4.0},{"s":"y","h":6.85,"e":-8.5},{"s":"y","h":6.7,"e":-12.0},{"s":"y","h":6.55,"e":-17.5},{"s":"y","h":6.4,"e":-21.0},{"s":"y","h":6.25,"e":-26.0},{"s":"y","h":6.1,"e":-29.5},{"s":"y","h":5.95,"e":-33.0},{"s":"y","h":5.8,"e":-37.5},{"s":"y","h":5.65,"e":-41.0},{"s":"y","h":5.5,"e":-45.0},{"s":"y","h":5.35,"e":-49.0},
{"s":"z","h":13.0,"e":-1.8},{"s":"z","h":12.6,"e":1.0},{"s":"z","h":12.2,"e":-2.2},{"s":"z","h":11.8,"e":0.6},{"s":"z","h":11.4,"e":-1.5},{"s":"z","h":11.0,"e":1.8},{"s":"z","h":10.6,"e":-0.9},{"s":"z","h":10.2,"e":2.2},{"s":"z","h":9.8,"e":-1.2},{"s":"z","h":9.4,"e":1.5},{"s":"z","h":9.0,"e":-1.8},{"s":"z","h":8.6,"e":0.9},{"s":"z","h":8.2,"e":-2.3},{"s":"z","h":7.8,"e":0.4},{"s":"z","h":7.4,"e":-1.6},{"s":"z","h":7.05,"e":2.0},{"s":"z","h":6.85,"e":-1.5},{"s":"z","h":6.65,"e":1.2},{"s":"z","h":6.45,"e":-2.0},{"s":"z","h":6.25,"e":0.5},{"s":"z","h":6.05,"e":-3.0},{"s":"z","h":5.85,"e":-0.5},{"s":"z","h":5.65,"e":-4.0},{"s":"z","h":5.45,"e":-2.0},{"s":"z","h":5.3,"e":-5.0},{"s":"z","h":5.22,"e":-71.0},{"s":"z","h":5.15,"e":-7.5},{"s":"z","h":4.95,"e":-3.0},{"s":"z","h":4.75,"e":1.5},{"s":"z","h":4.55,"e":5.0},{"s":"z","h":4.4,"e":9.0},
{"s":"b1","h":13.1,"e":-1.0},{"s":"b1","h":12.9,"e":1.5},{"s":"b1","h":12.7,"e":-2.0},{"s":"b1","h":12.5,"e":0.9},{"s":"b1","h":12.3,"e":-1.6},{"s":"b1","h":12.1,"e":2.2},{"s":"b1","h":11.9,"e":-0.8},{"s":"b1","h":11.7,"e":1.9},{"s":"b1","h":11.5,"e":-1.9},{"s":"b1","h":11.3,"e":1.1},{"s":"b1","h":11.1,"e":-1.3},{"s":"b1","h":10.9,"e":2.0},{"s":"b1","h":10.7,"e":-0.6},{"s":"b1","h":10.5,"e":2.7},{"s":"b1","h":10.3,"e":-0.2},{"s":"b1","h":10.1,"e":3.0},{"s":"b1","h":9.9,"e":0.5},{"s":"b1","h":9.7,"e":-1.7},{"s":"b1","h":9.5,"e":1.4},{"s":"b1","h":9.3,"e":-1.0},{"s":"b1","h":9.1,"e":2.1},{"s":"b1","h":8.9,"e":-0.4},{"s":"b1","h":8.7,"e":2.6},{"s":"b1","h":8.5,"e":0.0},{"s":"b1","h":8.3,"e":-2.4},{"s":"b1","h":8.1,"e":0.6},{"s":"b1","h":7.9,"e":3.1},{"s":"b1","h":7.7,"e":0.3},{"s":"b1","h":7.5,"e":2.9},{"s":"b1","h":7.3,"e":-0.3},{"s":"b1","h":7.1,"e":1.8},{"s":"b1","h":6.9,"e":-1.2},{"s":"b1","h":6.7,"e":0.8},{"s":"b1","h":6.5,"e":-2.5},{"s":"b1","h":6.3,"e":-0.4},{"s":"b1","h":6.1,"e":2.0},{"s":"b1","h":5.9,"e":-1.0},{"s":"b1","h":5.7,"e":1.5},
{"s":"b2","h":13.05,"e":-5.5},{"s":"b2","h":12.85,"e":-3.0},{"s":"b2","h":12.65,"e":-6.2},{"s":"b2","h":12.45,"e":-3.7},{"s":"b2","h":12.25,"e":-0.9},{"s":"b2","h":12.05,"e":-4.1},{"s":"b2","h":11.85,"e":-1.6},{"s":"b2","h":11.65,"e":-4.8},{"s":"b2","h":11.45,"e":-7.0},{"s":"b2","h":11.25,"e":-4.4},{"s":"b2","h":11.05,"e":-7.3},{"s":"b2","h":10.85,"e":-4.6},{"s":"b2","h":10.65,"e":-2.0},{"s":"b2","h":10.45,"e":-5.1},{"s":"b2","h":10.25,"e":-2.5},{"s":"b2","h":10.05,"e":-5.5},{"s":"b2","h":9.85,"e":-2.9},{"s":"b2","h":9.65,"e":-6.0},{"s":"b2","h":9.45,"e":-3.4},{"s":"b2","h":9.25,"e":-0.8},{"s":"b2","h":9.05,"e":-3.9},{"s":"b2","h":8.85,"e":-1.3},{"s":"b2","h":8.65,"e":-4.4},{"s":"b2","h":8.45,"e":-1.8},{"s":"b2","h":8.25,"e":-4.9},{"s":"b2","h":8.05,"e":-2.3},{"s":"b2","h":7.85,"e":0.3},{"s":"b2","h":7.65,"e":-2.8},{"s":"b2","h":7.45,"e":-5.2},{"s":"b2","h":7.25,"e":-3.0},{"s":"b2","h":7.05,"e":-6.5},{"s":"b2","h":6.85,"e":-10.0},{"s":"b2","h":6.7,"e":-13.5},{"s":"b2","h":6.55,"e":-17.0},{"s":"b2","h":6.4,"e":-19.5},{"s":"b2","h":6.25,"e":-23.0},{"s":"b2","h":6.1,"e":-25.0},{"s":"b2","h":5.95,"e":-28.5},{"s":"b2","h":5.8,"e":-30.0},{"s":"b2","h":5.6,"e":-33.5},{"s":"b2","h":5.45,"e":-31.0},{"s":"b2","h":5.3,"e":-34.0},{"s":"b2","h":5.15,"e":-37.5},{"s":"b2","h":5.0,"e":-36.0},{"s":"b2","h":4.85,"e":-40.0},
{"s":"b3","h":13.1,"e":2.5},{"s":"b3","h":12.9,"e":5.0},{"s":"b3","h":12.7,"e":2.2},{"s":"b3","h":12.5,"e":4.8},{"s":"b3","h":12.3,"e":1.9},{"s":"b3","h":12.1,"e":4.5},{"s":"b3","h":11.9,"e":7.1},{"s":"b3","h":11.7,"e":4.2},{"s":"b3","h":11.5,"e":6.8},{"s":"b3","h":11.3,"e":3.9},{"s":"b3","h":11.1,"e":6.5},{"s":"b3","h":10.9,"e":3.6},{"s":"b3","h":10.7,"e":0.9},{"s":"b3","h":10.5,"e":3.3},{"s":"b3","h":10.3,"e":5.9},{"s":"b3","h":10.1,"e":3.0},{"s":"b3","h":9.9,"e":5.6},{"s":"b3","h":9.7,"e":2.7},{"s":"b3","h":9.5,"e":5.3},{"s":"b3","h":9.3,"e":2.4},{"s":"b3","h":9.1,"e":5.0},{"s":"b3","h":8.9,"e":7.6},{"s":"b3","h":8.7,"e":4.7},{"s":"b3","h":8.5,"e":7.3},{"s":"b3","h":8.3,"e":4.4},{"s":"b3","h":8.1,"e":7.0},{"s":"b3","h":7.9,"e":4.1},{"s":"b3","h":7.7,"e":1.5},{"s":"b3","h":7.5,"e":4.2},{"s":"b3","h":7.3,"e":6.9},{"s":"b3","h":7.1,"e":4.0},{"s":"b3","h":6.9,"e":6.7},{"s":"b3","h":6.7,"e":3.8},{"s":"b3","h":6.5,"e":6.4},{"s":"b3","h":6.3,"e":9.0},{"s":"b3","h":6.1,"e":6.1},{"s":"b3","h":5.9,"e":8.8},{"s":"b3","h":5.7,"e":5.9},{"s":"b3","h":5.5,"e":8.5},{"s":"b3","h":5.3,"e":5.6},{"s":"b3","h":5.1,"e":8.2},{"s":"b3","h":4.9,"e":11.0},{"s":"b3","h":4.7,"e":8.0},{"s":"b3","h":4.5,"e":10.5},{"s":"b3","h":4.3,"e":7.5},{"s":"b3","h":4.1,"e":10.2},{"s":"b3","h":3.9,"e":7.2},{"s":"b3","h":3.7,"e":9.8},{"s":"b3","h":3.5,"e":6.5},
{"s":"b4","h":12.95,"e":-2.2},{"s":"b4","h":12.75,"e":0.5},{"s":"b4","h":12.55,"e":-2.9},{"s":"b4","h":12.35,"e":-0.2},{"s":"b4","h":12.15,"e":-3.6},{"s":"b4","h":11.95,"e":-0.9},{"s":"b4","h":11.75,"e":2.0},{"s":"b4","h":11.55,"e":-1.6},{"s":"b4","h":11.35,"e":1.2},{"s":"b4","h":11.15,"e":-2.3},{"s":"b4","h":10.95,"e":0.5},{"s":"b4","h":10.75,"e":-3.0},{"s":"b4","h":10.55,"e":-0.2},{"s":"b4","h":10.35,"e":-3.7},{"s":"b4","h":10.15,"e":-0.9},{"s":"b4","h":9.95,"e":1.9},{"s":"b4","h":9.75,"e":-1.6},{"s":"b4","h":9.55,"e":1.2},{"s":"b4","h":9.35,"e":-2.3},{"s":"b4","h":9.15,"e":0.5},{"s":"b4","h":8.95,"e":-3.0},{"s":"b4","h":8.75,"e":-0.2},{"s":"b4","h":8.55,"e":2.6},{"s":"b4","h":8.35,"e":-0.9},{"s":"b4","h":8.15,"e":1.9},{"s":"b4","h":7.95,"e":-1.6},{"s":"b4","h":7.75,"e":1.2},{"s":"b4","h":7.55,"e":-2.3},{"s":"b4","h":7.35,"e":0.5},{"s":"b4","h":7.15,"e":-1.5},{"s":"b4","h":6.95,"e":-3.5},{"s":"b4","h":6.75,"e":-1.0},{"s":"b4","h":6.55,"e":-4.5},{"s":"b4","h":6.35,"e":-7.5},{"s":"b4","h":6.15,"e":-5.0},{"s":"b4","h":5.95,"e":-8.5},{"s":"b4","h":5.75,"e":-6.0},{"s":"b4","h":5.55,"e":-9.0},
{"s":"b5","h":13.08,"e":5.8},{"s":"b5","h":12.88,"e":3.0},{"s":"b5","h":12.68,"e":6.4},{"s":"b5","h":12.48,"e":9.0},{"s":"b5","h":12.28,"e":6.0},{"s":"b5","h":12.08,"e":8.7},{"s":"b5","h":11.88,"e":5.6},{"s":"b5","h":11.68,"e":8.4},{"s":"b5","h":11.48,"e":11.0},{"s":"b5","h":11.28,"e":8.0},{"s":"b5","h":11.08,"e":10.6},{"s":"b5","h":10.88,"e":7.5},{"s":"b5","h":10.68,"e":10.2},{"s":"b5","h":10.48,"e":7.1},{"s":"b5","h":10.28,"e":4.4},{"s":"b5","h":10.08,"e":7.8},{"s":"b5","h":9.88,"e":10.5},{"s":"b5","h":9.68,"e":7.4},{"s":"b5","h":9.48,"e":10.1},{"s":"b5","h":9.28,"e":7.0},{"s":"b5","h":9.08,"e":9.7},{"s":"b5","h":8.88,"e":12.3},{"s":"b5","h":8.68,"e":9.3},{"s":"b5","h":8.48,"e":12.0},{"s":"b5","h":8.28,"e":8.9},{"s":"b5","h":8.08,"e":11.6},{"s":"b5","h":7.88,"e":8.5},{"s":"b5","h":7.68,"e":11.2},{"s":"b5","h":7.48,"e":8.1},{"s":"b5","h":7.28,"e":10.8},{"s":"b5","h":7.08,"e":13.3},{"s":"b5","h":6.88,"e":10.3},{"s":"b5","h":6.68,"e":12.9},{"s":"b5","h":6.48,"e":9.9},{"s":"b5","h":6.28,"e":12.5},{"s":"b5","h":6.08,"e":9.5},{"s":"b5","h":5.88,"e":12.1},{"s":"b5","h":5.68,"e":9.1},{"s":"b5","h":5.48,"e":11.7},{"s":"b5","h":5.28,"e":14.5},{"s":"b5","h":5.08,"e":11.5},{"s":"b5","h":4.88,"e":14.0},{"s":"b5","h":4.68,"e":17.5},{"s":"b5","h":4.48,"e":14.8},{"s":"b5","h":4.28,"e":17.0},{"s":"b5","h":4.08,"e":14.0},{"s":"b5","h":3.88,"e":16.5},{"s":"b5","h":3.68,"e":13.0},{"s":"b5","h":3.48,"e":15.5},
{"s":"b6","h":12.7,"e":-3.5},{"s":"b6","h":12.5,"e":-6.2},{"s":"b6","h":12.3,"e":-3.0},{"s":"b6","h":12.1,"e":-5.8},{"s":"b6","h":11.9,"e":-2.6},{"s":"b6","h":11.7,"e":0.3},{"s":"b6","h":11.5,"e":-2.2},{"s":"b6","h":11.3,"e":-5.0},{"s":"b6","h":11.1,"e":-1.8},{"s":"b6","h":10.9,"e":-4.6},{"s":"b6","h":10.7,"e":-1.4},{"s":"b6","h":10.5,"e":-4.2},{"s":"b6","h":10.3,"e":-6.9},{"s":"b6","h":10.1,"e":-3.8},{"s":"b6","h":9.9,"e":-6.5},{"s":"b6","h":9.7,"e":-3.4},{"s":"b6","h":9.5,"e":-0.6},{"s":"b6","h":9.3,"e":-3.4},{"s":"b6","h":9.1,"e":-0.2},{"s":"b6","h":8.9,"e":-3.0},{"s":"b6","h":8.7,"e":-5.8},{"s":"b6","h":8.5,"e":-2.6},{"s":"b6","h":8.3,"e":-5.4},{"s":"b6","h":8.1,"e":-2.2},{"s":"b6","h":7.9,"e":0.6},{"s":"b6","h":7.7,"e":-2.2},{"s":"b6","h":7.5,"e":-4.9},{"s":"b6","h":7.3,"e":-1.8},{"s":"b6","h":7.1,"e":-4.5},{"s":"b6","h":6.95,"e":-8.0},{"s":"b6","h":6.8,"e":-11.5},{"s":"b6","h":6.65,"e":-15.0},{"s":"b6","h":6.5,"e":-19.0},{"s":"b6","h":6.35,"e":-21.5},{"s":"b6","h":6.2,"e":-25.0},{"s":"b6","h":6.05,"e":-27.0},{"s":"b6","h":5.9,"e":-24.5},{"s":"b6","h":5.75,"e":-28.0},{"s":"b6","h":5.6,"e":-26.0},{"s":"b6","h":5.45,"e":-29.5},
{"s":"b7","h":13.0,"e":0.2},{"s":"b7","h":12.8,"e":3.0},{"s":"b7","h":12.6,"e":0.5},{"s":"b7","h":12.4,"e":3.4},{"s":"b7","h":12.2,"e":6.1},{"s":"b7","h":12.0,"e":3.1},{"s":"b7","h":11.8,"e":0.4},{"s":"b7","h":11.6,"e":3.3},{"s":"b7","h":11.4,"e":0.6},{"s":"b7","h":11.2,"e":3.6},{"s":"b7","h":11.0,"e":6.3},{"s":"b7","h":10.8,"e":3.3},{"s":"b7","h":10.6,"e":0.7},{"s":"b7","h":10.4,"e":3.6},{"s":"b7","h":10.2,"e":0.9},{"s":"b7","h":10.0,"e":3.9},{"s":"b7","h":9.8,"e":6.6},{"s":"b7","h":9.6,"e":3.6},{"s":"b7","h":9.4,"e":0.9},{"s":"b7","h":9.2,"e":3.9},{"s":"b7","h":9.0,"e":1.2},{"s":"b7","h":8.8,"e":4.2},{"s":"b7","h":8.6,"e":6.9},{"s":"b7","h":8.4,"e":3.9},{"s":"b7","h":8.2,"e":1.2},{"s":"b7","h":8.0,"e":4.2},{"s":"b7","h":7.8,"e":1.5},{"s":"b7","h":7.6,"e":4.5},{"s":"b7","h":7.4,"e":7.2},{"s":"b7","h":7.2,"e":4.2},{"s":"b7","h":7.0,"e":1.5},{"s":"b7","h":6.8,"e":4.5},{"s":"b7","h":6.6,"e":7.1},{"s":"b7","h":6.4,"e":4.0},{"s":"b7","h":6.2,"e":6.8},{"s":"b7","h":6.0,"e":3.8},{"s":"b7","h":5.8,"e":6.5},{"s":"b7","h":5.6,"e":9.2},{"s":"b7","h":5.4,"e":6.0},{"s":"b7","h":5.2,"e":8.7},{"s":"b7","h":5.0,"e":5.8},{"s":"b7","h":4.8,"e":8.5},{"s":"b7","h":4.6,"e":11.0},{"s":"b7","h":4.4,"e":8.0},{"s":"b7","h":4.2,"e":10.5},{"s":"b7","h":4.0,"e":7.5},{"s":"b7","h":3.8,"e":10.0},{"s":"b7","h":3.6,"e":6.8},{"s":"b7","h":3.4,"e":9.0},
{"s":"b8","h":13.06,"e":-4.0},{"s":"b8","h":12.86,"e":-6.8},{"s":"b8","h":12.66,"e":-3.6},{"s":"b8","h":12.46,"e":-0.9},{"s":"b8","h":12.26,"e":-3.8},{"s":"b8","h":12.06,"e":-6.6},{"s":"b8","h":11.86,"e":-3.4},{"s":"b8","h":11.66,"e":-6.2},{"s":"b8","h":11.46,"e":-3.0},{"s":"b8","h":11.26,"e":-0.3},{"s":"b8","h":11.06,"e":-3.1},{"s":"b8","h":10.86,"e":-5.9},{"s":"b8","h":10.66,"e":-2.7},{"s":"b8","h":10.46,"e":-5.5},{"s":"b8","h":10.26,"e":-2.3},{"s":"b8","h":10.06,"e":0.4},{"s":"b8","h":9.86,"e":-2.5},{"s":"b8","h":9.66,"e":-5.3},{"s":"b8","h":9.46,"e":-2.1},{"s":"b8","h":9.26,"e":-4.9},{"s":"b8","h":9.06,"e":-1.7},{"s":"b8","h":8.86,"e":-4.5},{"s":"b8","h":8.66,"e":-7.2},{"s":"b8","h":8.46,"e":-4.1},{"s":"b8","h":8.26,"e":-6.9},{"s":"b8","h":8.06,"e":-3.7},{"s":"b8","h":7.86,"e":-1.0},{"s":"b8","h":7.66,"e":-3.8},{"s":"b8","h":7.46,"e":-6.6},{"s":"b8","h":7.26,"e":-3.4},{"s":"b8","h":7.06,"e":-6.0},{"s":"b8","h":6.9,"e":-9.0},{"s":"b8","h":6.75,"e":-7.0},{"s":"b8","h":6.6,"e":-10.5},{"s":"b8","h":6.45,"e":-14.0},{"s":"b8","h":6.3,"e":-12.0},{"s":"b8","h":6.15,"e":-16.5},{"s":"b8","h":6.0,"e":-19.0},{"s":"b8","h":5.85,"e":-17.0},{"s":"b8","h":5.7,"e":-21.0},{"s":"b8","h":5.55,"e":-19.0},{"s":"b8","h":5.4,"e":-23.0},{"s":"b8","h":5.25,"e":-21.5},{"s":"b8","h":5.1,"e":-18.0},{"s":"b8","h":4.95,"e":-20.5},{"s":"b8","h":4.8,"e":-17.0},{"s":"b8","h":4.65,"e":-12.0},{"s":"b8","h":4.5,"e":-6.0},
{"s":"b9","h":12.9,"e":1.8},{"s":"b9","h":12.7,"e":4.4},{"s":"b9","h":12.5,"e":1.4},{"s":"b9","h":12.3,"e":-1.1},{"s":"b9","h":12.1,"e":1.7},{"s":"b9","h":11.9,"e":4.3},{"s":"b9","h":11.7,"e":1.3},{"s":"b9","h":11.5,"e":4.0},{"s":"b9","h":11.3,"e":6.6},{"s":"b9","h":11.1,"e":3.6},{"s":"b9","h":10.9,"e":0.9},{"s":"b9","h":10.7,"e":3.7},{"s":"b9","h":10.5,"e":0.8},{"s":"b9","h":10.3,"e":3.5},{"s":"b9","h":10.1,"e":0.6},{"s":"b9","h":9.9,"e":-2.0},{"s":"b9","h":9.7,"e":0.9},{"s":"b9","h":9.5,"e":3.6},{"s":"b9","h":9.3,"e":0.7},{"s":"b9","h":9.1,"e":3.4},{"s":"b9","h":8.9,"e":6.0},{"s":"b9","h":8.7,"e":3.0},{"s":"b9","h":8.5,"e":5.7},{"s":"b9","h":8.3,"e":2.8},{"s":"b9","h":8.1,"e":5.4},{"s":"b9","h":7.9,"e":2.5},{"s":"b9","h":7.7,"e":-0.1},{"s":"b9","h":7.5,"e":2.7},{"s":"b9","h":7.3,"e":5.3},{"s":"b9","h":7.1,"e":2.4},{"s":"b9","h":6.9,"e":5.0},{"s":"b9","h":6.7,"e":2.1},{"s":"b9","h":6.5,"e":-0.5},{"s":"b9","h":6.3,"e":2.3},{"s":"b9","h":6.1,"e":-0.3},{"s":"b9","h":5.9,"e":2.5},{"s":"b9","h":5.7,"e":-0.2},{"s":"b9","h":5.5,"e":2.6},{"s":"b9","h":5.3,"e":0.0},{"s":"b9","h":5.1,"e":3.0},{"s":"b9","h":4.9,"e":6.0},{"s":"b9","h":4.7,"e":3.5},{"s":"b9","h":4.5,"e":7.0},
{"s":"b10","h":13.12,"e":-0.3},{"s":"b10","h":12.92,"e":2.4},{"s":"b10","h":12.72,"e":-0.6},{"s":"b10","h":12.52,"e":2.1},{"s":"b10","h":12.32,"e":-0.9},{"s":"b10","h":12.12,"e":1.8},{"s":"b10","h":11.92,"e":-1.2},{"s":"b10","h":11.72,"e":1.5},{"s":"b10","h":11.52,"e":4.2},{"s":"b10","h":11.32,"e":1.2},{"s":"b10","h":11.12,"e":3.9},{"s":"b10","h":10.92,"e":0.9},{"s":"b10","h":10.72,"e":3.6},{"s":"b10","h":10.52,"e":0.6},{"s":"b10","h":10.32,"e":3.3},{"s":"b10","h":10.12,"e":0.3},{"s":"b10","h":9.92,"e":3.0},{"s":"b10","h":9.72,"e":5.7},{"s":"b10","h":9.52,"e":2.7},{"s":"b10","h":9.32,"e":5.4},{"s":"b10","h":9.12,"e":2.4},{"s":"b10","h":8.92,"e":5.1},{"s":"b10","h":8.72,"e":2.1},{"s":"b10","h":8.52,"e":4.8},{"s":"b10","h":8.32,"e":1.8},{"s":"b10","h":8.12,"e":4.5},{"s":"b10","h":7.92,"e":1.5},{"s":"b10","h":7.72,"e":4.2},{"s":"b10","h":7.52,"e":1.2},{"s":"b10","h":7.32,"e":3.9},{"s":"b10","h":7.12,"e":6.6},{"s":"b10","h":6.92,"e":3.6},{"s":"b10","h":6.72,"e":6.3},{"s":"b10","h":6.52,"e":3.3},{"s":"b10","h":6.32,"e":6.0},{"s":"b10","h":6.12,"e":8.7},{"s":"b10","h":5.92,"e":5.7},{"s":"b10","h":5.72,"e":8.4},{"s":"b10","h":5.52,"e":5.4},{"s":"b10","h":5.32,"e":8.1},{"s":"b10","h":5.12,"e":5.1},{"s":"b10","h":4.92,"e":7.8},{"s":"b10","h":4.72,"e":10.5},{"s":"b10","h":4.52,"e":7.5},{"s":"b10","h":4.32,"e":10.2}
],
"dark": [
{"s":"m","h":13.12,"e":-2.7},{"s":"m","h":12.9,"e":-2.2},{"s":"m","h":12.6,"e":-1.9},{"s":"m","h":12.3,"e":-1.7},{"s":"m","h":12.0,"e":-1.6},{"s":"m","h":11.7,"e":-1.3},{"s":"m","h":11.4,"e":-1.1},{"s":"m","h":11.1,"e":-0.9},{"s":"m","h":10.8,"e":-0.4},{"s":"m","h":10.5,"e":0.2},{"s":"m","h":10.2,"e":0.5},{"s":"m","h":9.9,"e":0.7},{"s":"m","h":9.6,"e":0.7},{"s":"m","h":9.3,"e":0.4},{"s":"m","h":9.0,"e":0.3},{"s":"m","h":8.7,"e":0.1},{"s":"m","h":8.4,"e":0.3},{"s":"m","h":8.1,"e":0.6},{"s":"m","h":7.8,"e":1.0},{"s":"m","h":7.5,"e":1.2},{"s":"m","h":7.3,"e":0.9},{"s":"m","h":7.2,"e":0.4},{"s":"m","h":7.1,"e":-0.3},{"s":"m","h":7.0,"e":-1.0},{"s":"m","h":6.9,"e":-1.9},{"s":"m","h":6.8,"e":-2.9},{"s":"m","h":6.7,"e":-3.9},{"s":"m","h":6.6,"e":-5.2},{"s":"m","h":6.5,"e":-7.0},{"s":"m","h":6.4,"e":-9.2},{"s":"m","h":6.3,"e":-12.2},{"s":"m","h":6.2,"e":-16.0},{"s":"m","h":6.12,"e":-20.8},{"s":"m","h":6.0,"e":-21.0},{"s":"m","h":5.9,"e":-21.3},{"s":"m","h":5.8,"e":-22.6},{"s":"m","h":5.7,"e":-24.2},{"s":"m","h":5.6,"e":-26.1},{"s":"m","h":5.5,"e":-28.0},{"s":"m","h":5.4,"e":-30.0},{"s":"m","h":5.3,"e":-31.8},{"s":"m","h":5.2,"e":-30.8},{"s":"m","h":5.1,"e":-28.8},{"s":"m","h":5.0,"e":-28.2},{"s":"m","h":4.9,"e":-27.8},{"s":"m","h":4.8,"e":-27.2},{"s":"m","h":4.7,"e":-23.5},{"s":"m","h":4.6,"e":-16.0},{"s":"m","h":4.5,"e":-8.5},{"s":"m","h":4.42,"e":-1.0},{"s":"m","h":4.33,"e":9.7},{"s":"m","h":4.15,"e":11.0},{"s":"m","h":4.0,"e":11.6},{"s":"m","h":3.9,"e":11.0},{"s":"m","h":3.8,"e":10.2},{"s":"m","h":3.65,"e":8.5},{"s":"m","h":3.52,"e":7.9},{"s":"m","h":3.4,"e":6.8},{"s":"m","h":3.25,"e":4.1},{"s":"m","h":3.15,"e":-1.5},{"s":"m","h":3.09,"e":-6.3},{"s":"m","h":3.01,"e":-28.8},{"s":"m","h":2.93,"e":-51.1},{"s":"m","h":2.83,"e":-61.0},{"s":"m","h":2.73,"e":-68.4},{"s":"m","h":2.6,"e":-75.5},{"s":"m","h":2.48,"e":-78.4},
{"s":"p","h":13.12,"e":0.2},{"s":"p","h":12.95,"e":2.5},{"s":"p","h":12.7,"e":3.6},{"s":"p","h":12.45,"e":4.0},{"s":"p","h":12.2,"e":6.0},{"s":"p","h":12.0,"e":8.0},{"s":"p","h":11.8,"e":7.9},{"s":"p","h":11.6,"e":7.4},{"s":"p","h":11.4,"e":7.0},{"s":"p","h":11.2,"e":6.6},{"s":"p","h":11.0,"e":6.2},{"s":"p","h":10.8,"e":5.4},{"s":"p","h":10.6,"e":4.8},{"s":"p","h":10.4,"e":4.6},{"s":"p","h":10.2,"e":5.0},{"s":"p","h":10.0,"e":5.6},{"s":"p","h":9.8,"e":6.2},{"s":"p","h":9.6,"e":7.0},{"s":"p","h":9.45,"e":8.2},{"s":"p","h":9.3,"e":10.0},{"s":"p","h":9.1,"e":12.0},{"s":"p","h":8.9,"e":9.8},{"s":"p","h":8.75,"e":8.0},{"s":"p","h":8.6,"e":8.6},{"s":"p","h":8.48,"e":9.6},{"s":"p","h":8.35,"e":7.6},{"s":"p","h":8.2,"e":7.0},{"s":"p","h":8.0,"e":8.0},{"s":"p","h":7.8,"e":9.0},{"s":"p","h":7.6,"e":10.4},{"s":"p","h":7.45,"e":11.8},{"s":"p","h":7.3,"e":13.8},{"s":"p","h":7.15,"e":10.5},{"s":"p","h":7.0,"e":8.0},{"s":"p","h":6.85,"e":7.3},{"s":"p","h":6.72,"e":8.5},{"s":"p","h":6.5,"e":8.2},{"s":"p","h":6.35,"e":8.0},{"s":"p","h":6.15,"e":4.1},{"s":"p","h":5.94,"e":4.1},{"s":"p","h":5.78,"e":5.3},{"s":"p","h":5.6,"e":3.5},{"s":"p","h":5.46,"e":1.5},{"s":"p","h":5.38,"e":1.8},{"s":"p","h":5.19,"e":6.1},{"s":"p","h":5.0,"e":9.5},{"s":"p","h":4.86,"e":15.9},{"s":"p","h":4.7,"e":24.0},{"s":"p","h":4.56,"e":29.6},{"s":"p","h":4.44,"e":19.5},{"s":"p","h":4.3,"e":16.6},{"s":"p","h":4.06,"e":17.4},{"s":"p","h":3.87,"e":15.0},{"s":"p","h":3.65,"e":20.1},{"s":"p","h":3.5,"e":15.0},{"s":"p","h":3.31,"e":8.8},{"s":"p","h":3.2,"e":9.5},{"s":"p","h":3.09,"e":8.6},{"s":"p","h":3.0,"e":-10.0},{"s":"p","h":2.9,"e":-28.8},{"s":"p","h":2.69,"e":-36.3},{"s":"p","h":2.58,"e":-52.0},{"s":"p","h":2.48,"e":-67.7},
{"s":"n","h":13.12,"e":-6.1},{"s":"n","h":12.9,"e":-5.4},{"s":"n","h":12.6,"e":-5.9},{"s":"n","h":12.3,"e":-5.9},{"s":"n","h":12.0,"e":-5.3},{"s":"n","h":11.8,"e":-6.0},{"s":"n","h":11.7,"e":-6.3},{"s":"n","h":11.5,"e":-5.0},{"s":"n","h":11.2,"e":-4.0},{"s":"n","h":11.0,"e":-3.4},{"s":"n","h":10.8,"e":-2.5},{"s":"n","h":10.5,"e":-2.9},{"s":"n","h":10.2,"e":-3.6},{"s":"n","h":10.0,"e":-3.6},{"s":"n","h":9.8,"e":-4.3},{"s":"n","h":9.5,"e":-6.3},{"s":"n","h":9.3,"e":-9.1},{"s":"n","h":9.1,"e":-12.0},{"s":"n","h":8.9,"e":-8.8},{"s":"n","h":8.7,"e":-6.6},{"s":"n","h":8.5,"e":-6.6},{"s":"n","h":8.3,"e":-5.7},{"s":"n","h":8.1,"e":-6.6},{"s":"n","h":7.9,"e":-7.0},{"s":"n","h":7.6,"e":-7.0},{"s":"n","h":7.5,"e":-8.4},{"s":"n","h":7.3,"e":-12.9},{"s":"n","h":7.15,"e":-9.0},{"s":"n","h":7.05,"e":-8.0},{"s":"n","h":6.95,"e":-13.0},{"s":"n","h":6.85,"e":-17.0},{"s":"n","h":6.7,"e":-21.3},{"s":"n","h":6.5,"e":-26.5},{"s":"n","h":6.3,"e":-33.8},{"s":"n","h":6.1,"e":-46.8},{"s":"n","h":5.91,"e":-44.1},{"s":"n","h":5.7,"e":-50.5},{"s":"n","h":5.5,"e":-57.3},{"s":"n","h":5.32,"e":-64.6},{"s":"n","h":5.1,"e":-60.9},{"s":"n","h":4.92,"e":-65.7},{"s":"n","h":4.7,"e":-63.0},{"s":"n","h":4.52,"e":-44.1},{"s":"n","h":4.35,"e":-10.5},{"s":"n","h":4.3,"e":1.0},{"s":"n","h":4.09,"e":6.3},{"s":"n","h":3.9,"e":6.6},{"s":"n","h":3.79,"e":5.0},{"s":"n","h":3.65,"e":-0.5},{"s":"n","h":3.45,"e":-4.0},{"s":"n","h":3.29,"e":-6.3},{"s":"n","h":3.12,"e":-21.3},{"s":"n","h":2.97,"e":-58.6},{"s":"n","h":2.86,"e":-81.0},{"s":"n","h":2.7,"e":-99.7},{"s":"n","h":2.48,"e":-89.7}
]
},
"encoding": {
 "x": {"field": "e", "type": "quantitative", "scale": {"domain": [-100, 40], "nice": false, "zero": false},
  "axis": {"title": "Bending Angle Error (%)", "values": [-100,-80,-60,-40,-20,0,20,40], "labelExpr": "datum.value < 0 ? '-' + (-datum.value) : '' + datum.value", "grid": false, "tickSize": -14, "tickWidth": 1.5, "tickColor": "#262626", "domainColor": "#262626", "domainWidth": 2, "labelFont": "Liberation Sans", "labelFontSize": 50, "labelColor": "#262626", "labelPadding": 28, "labelFlush": false, "labelOverlap": false, "titleFont": "Liberation Sans", "titleFontSize": 47, "titleFontWeight": "normal", "titleColor": "#262626", "titlePadding": 72}},
 "y": {"field": "h", "type": "quantitative", "scale": {"domain": [2, 14], "nice": false, "zero": false},
  "axis": {"title": "Impact Height (km)", "values": [2,4,6,8,10,12,14], "grid": false, "tickSize": -14, "tickWidth": 1.5, "tickColor": "#262626", "domainColor": "#262626", "domainWidth": 2, "labelFont": "Liberation Sans", "labelFontSize": 48, "labelColor": "#262626", "labelPadding": 33, "labelFlush": false, "labelOverlap": false, "titleFont": "DejaVu Sans", "titleFontSize": 51, "titleFontWeight": "normal", "titleColor": "#262626", "titlePadding": 6}}
},
"layer": [
 {"data": {"name": "light"}, "mark": {"type": "line", "color": "#86acdf", "strokeWidth": 1.3, "clip": true}, "encoding": {"detail": {"field": "s"}, "order": {"field": "h"}}},
 {"data": {"name": "dark"}, "transform": [{"filter": "datum.s != 'm'"}], "mark": {"type": "line", "color": "#4f6886", "strokeWidth": 3.8, "clip": true}, "encoding": {"detail": {"field": "s"}, "order": {"field": "h"}}},
 {"data": {"name": "dark"}, "transform": [{"filter": "datum.s == 'm'"}], "mark": {"type": "line", "color": "#5879a0", "strokeWidth": 8, "clip": true}, "encoding": {"detail": {"field": "s"}, "order": {"field": "h"}}}
]
}
